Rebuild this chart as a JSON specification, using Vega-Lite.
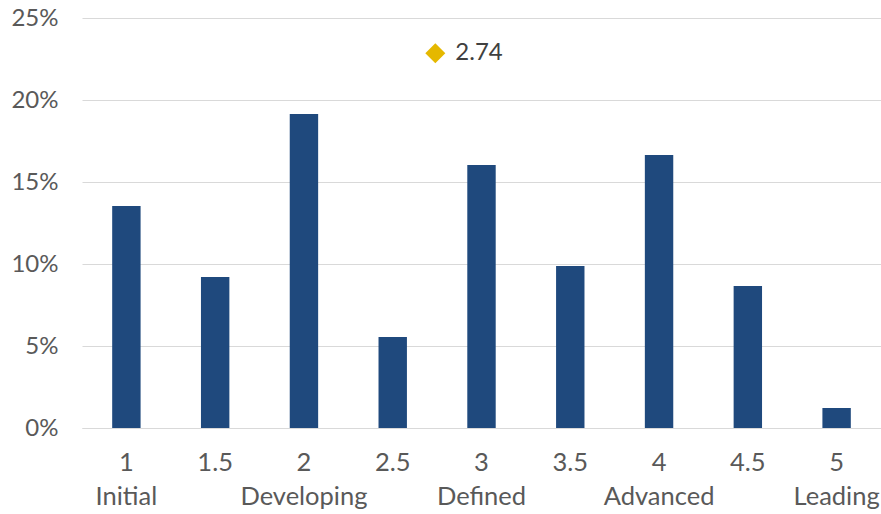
{
  "$schema": "https://vega.github.io/schema/vega-lite/v6.json",
  "autosize": "none",
  "padding": {"left": 82, "top": 18, "right": 0, "bottom": 86},
  "width": 799,
  "height": 410,
  "background": "white",
  "config": {
    "view": {"stroke": null},
    "font": "Lato",
    "axis": {"labelFont": "Lato", "labelColor": "#595959"}
  },
  "datasets": {
    "bars": [
      {"level": "1", "share": 0.1354},
      {"level": "1.5", "share": 0.0921},
      {"level": "2", "share": 0.1915},
      {"level": "2.5", "share": 0.0555},
      {"level": "3", "share": 0.1604},
      {"level": "3.5", "share": 0.0988},
      {"level": "4", "share": 0.1665},
      {"level": "4.5", "share": 0.0866},
      {"level": "5", "share": 0.0122}
    ],
    "avg": [
      {"score": 2.74, "share": 0.2285, "label": "2.74"}
    ]
  },
  "layer": [
    {
      "data": {"name": "bars"},
      "mark": {"type": "bar", "color": "#1F497D", "width": {"band": 0.32}},
      "encoding": {
        "x": {
          "field": "level",
          "type": "nominal",
          "sort": null,
          "scale": {"paddingInner": 0, "paddingOuter": 0},
          "axis": {
            "title": null,
            "labelAngle": 0,
            "labelFontSize": 25.5,
            "labelLineHeight": 34,
            "labelPadding": 22,
            "ticks": false,
            "domainColor": "#D9D9D9",
            "domainWidth": 1,
            "labelExpr": "datum.value == '1' ? ['1', 'Initial'] : datum.value == '2' ? ['2', 'Developing'] : datum.value == '3' ? ['3', 'Defined'] : datum.value == '4' ? ['4', 'Advanced'] : datum.value == '5' ? ['5', 'Leading'] : datum.value"
          }
        },
        "y": {
          "field": "share",
          "type": "quantitative",
          "scale": {"domain": [0, 0.25], "nice": false, "zero": true},
          "axis": {
            "title": null,
            "format": ".0%",
            "values": [0, 0.05, 0.1, 0.15, 0.2, 0.25],
            "labelFontSize": 24,
            "labelPadding": 24,
            "ticks": false,
            "domain": false,
            "grid": true,
            "gridColor": "#D9D9D9",
            "gridWidth": 1
          }
        }
      }
    },
    {
      "data": {"name": "avg"},
      "mark": {"type": "point", "shape": "diamond", "filled": true, "size": 400, "color": "#E5B800", "opacity": 1},
      "encoding": {
        "x": {"field": "score", "type": "quantitative", "scale": {"domain": [0.75, 5.25]}, "axis": null},
        "y": {"field": "share", "type": "quantitative", "scale": {"domain": [0, 0.25], "nice": false}}
      }
    },
    {
      "data": {"name": "avg"},
      "mark": {"type": "text", "align": "left", "baseline": "middle", "dx": 20, "fontSize": 24, "color": "#404040", "font": "Lato"},
      "encoding": {
        "x": {"field": "score", "type": "quantitative", "scale": {"domain": [0.75, 5.25]}, "axis": null},
        "y": {"field": "share", "type": "quantitative", "scale": {"domain": [0, 0.25], "nice": false}},
        "text": {"field": "label"}
      }
    }
  ],
  "resolve": {"scale": {"x": "independent"}}
}
